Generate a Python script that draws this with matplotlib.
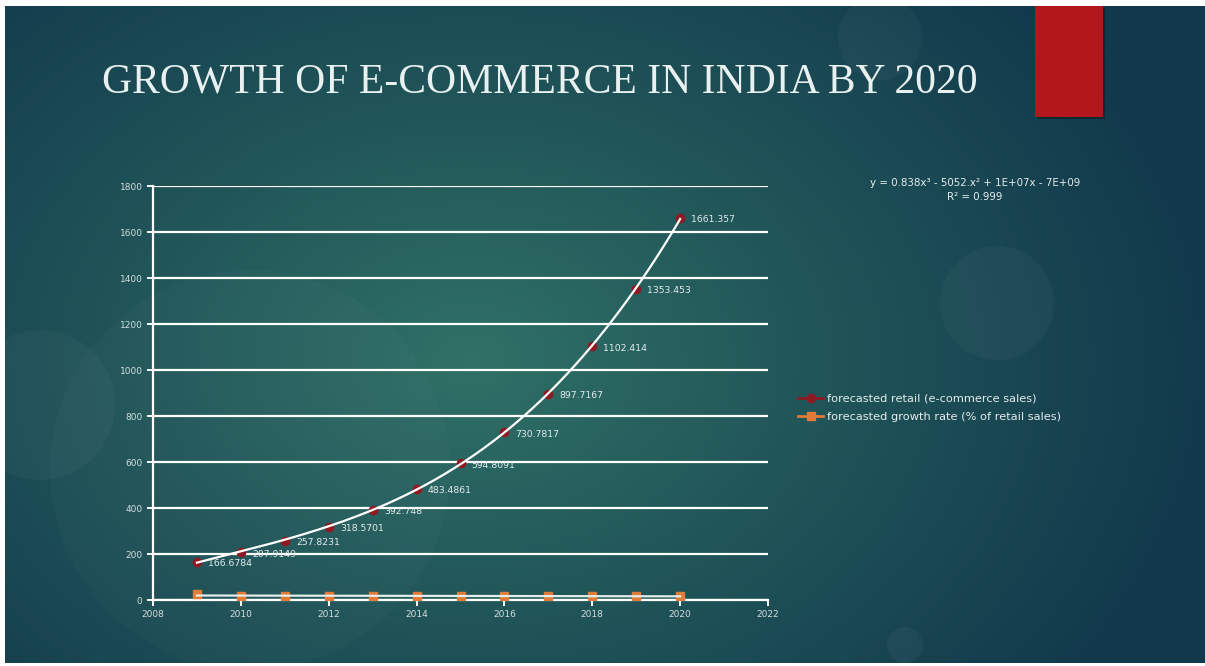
import numpy as np
import matplotlib
matplotlib.use("Agg")
import matplotlib.pyplot as plt
from matplotlib.patches import Circle, Rectangle
from matplotlib.lines import Line2D

# forecast series
years = [2009, 2010, 2011, 2012, 2013, 2014, 2015, 2016, 2017, 2018, 2019, 2020]
retail_sales = [166.6784, 207.9149, 257.8231, 318.5701, 392.748, 483.4861,
                594.8091, 730.7817, 897.7167, 1102.414, 1353.453, 1661.357]
growth_rate = [24, 18, 18, 17, 17, 17, 17, 17, 17, 17, 17, 17]

retail_label = "forecasted retail (e-commerce sales)"
growth_label = "forecasted growth rate (% of retail sales)"
title = "GROWTH OF E-COMMERCE IN INDIA BY 2020"
fit_text = "y = 0.838x³ - 5052.x² + 1E+07x - 7E+09\nR² = 0.999"

W, H = 1205, 666
fig = plt.figure(figsize=(W / 100, H / 100), dpi=100, facecolor="white")

# slide background, in pixel units
bg = fig.add_axes([0, 0, 1, 1])
bg.set_xlim(0, W)
bg.set_ylim(H, 0)
bg.axis("off")

gx, gy = np.meshgrid(np.linspace(5, W, 400), np.linspace(6, 663, 220))
r = np.sqrt(((gx - 470) / 760.0) ** 2 + ((gy - 360) / 560.0) ** 2)
r = np.clip(r, 0, 1) ** 0.9
c_in = np.array([0x30, 0x72, 0x67]) / 255.0
c_out = np.array([0x11, 0x38, 0x4b]) / 255.0
grad = c_in[None, None, :] * (1 - r[..., None]) + c_out[None, None, :] * r[..., None]
bg.imshow(grad, extent=(5, W, 663, 6), aspect="auto", interpolation="bilinear", zorder=0)

for (cx, cy, rad, a) in [(880, 38, 42, 0.03), (997, 303, 57, 0.03),
                         (40, 405, 75, 0.03), (250, 470, 200, 0.02),
                         (905, 645, 18, 0.035)]:
    bg.add_patch(Circle((cx, cy), rad, facecolor="white", alpha=a,
                        edgecolor="none", zorder=1))

bg.add_patch(Rectangle((1037, 8), 68, 111, facecolor="black", alpha=0.3,
                       edgecolor="none", zorder=2))
bg.add_patch(Rectangle((1035, 6), 68, 111, facecolor="#b3171b",
                       edgecolor="none", zorder=3))

bg.text(540, 82, title, ha="center", va="center", color="#e8f0f0",
        fontsize=30, family="Liberation Serif", zorder=4)

# chart
ax = fig.add_axes([153 / W, 66 / H, 615 / W, 414 / H])
ax.patch.set_alpha(0)
ax.set_xlim(2008, 2022)
ax.set_ylim(0, 1800)
ax.set_xticks(range(2008, 2023, 2))
ax.set_yticks(range(0, 1801, 200))
ax.grid(axis="y", color="white", lw=1.6)
ax.set_axisbelow(True)
for side in ["top", "right"]:
    ax.spines[side].set_visible(False)
for side in ["left", "bottom"]:
    ax.spines[side].set_color("white")
    ax.spines[side].set_linewidth(1.6)
ax.tick_params(colors="white", labelcolor="#d3dede", labelsize=6.5,
               length=4, width=1.4, direction="out")

ax.plot(years, retail_sales, "o", color="#8e1a22", ms=6, zorder=3)
ax.plot(years, growth_rate, "s", color="#e07c38", ms=6, zorder=3)

# polynomial trendlines
xs = np.linspace(years[0], years[-1], 200)
p_retail = np.polyfit(np.array(years) - 2000, retail_sales, 3)
ax.plot(xs, np.polyval(p_retail, xs - 2000), color="white", lw=1.6, zorder=4)
p_growth = np.polyfit(np.array(years) - 2000, growth_rate, 1)
ax.plot(xs, np.polyval(p_growth, xs - 2000), color="#e4ecec", lw=1.6, zorder=4)

for x, y in zip(years, retail_sales):
    ax.annotate(str(y), (x, y), xytext=(8, -1.5), textcoords="offset points",
                ha="left", va="center", fontsize=6.7, color="#e4ecec", zorder=5)

fig.text(975 / W, 1 - 190 / H, fit_text, ha="center", va="center",
         fontsize=7.4, color="#e4ecec", linespacing=1.45)

handles = [Line2D([], [], color="#8e1a22", marker="o", ms=6, lw=2),
           Line2D([], [], color="#e07c38", marker="s", ms=6, lw=2)]
leg = fig.legend(handles, [retail_label, growth_label], loc="center left",
                 bbox_to_anchor=(788 / W, 1 - 408 / H), frameon=False,
                 fontsize=8.2, handlelength=2.2, handletextpad=0.3,
                 labelspacing=0.75)
for t in leg.get_texts():
    t.set_color("#e4ecec")

fig.savefig("out.png", dpi=100, facecolor="white")
